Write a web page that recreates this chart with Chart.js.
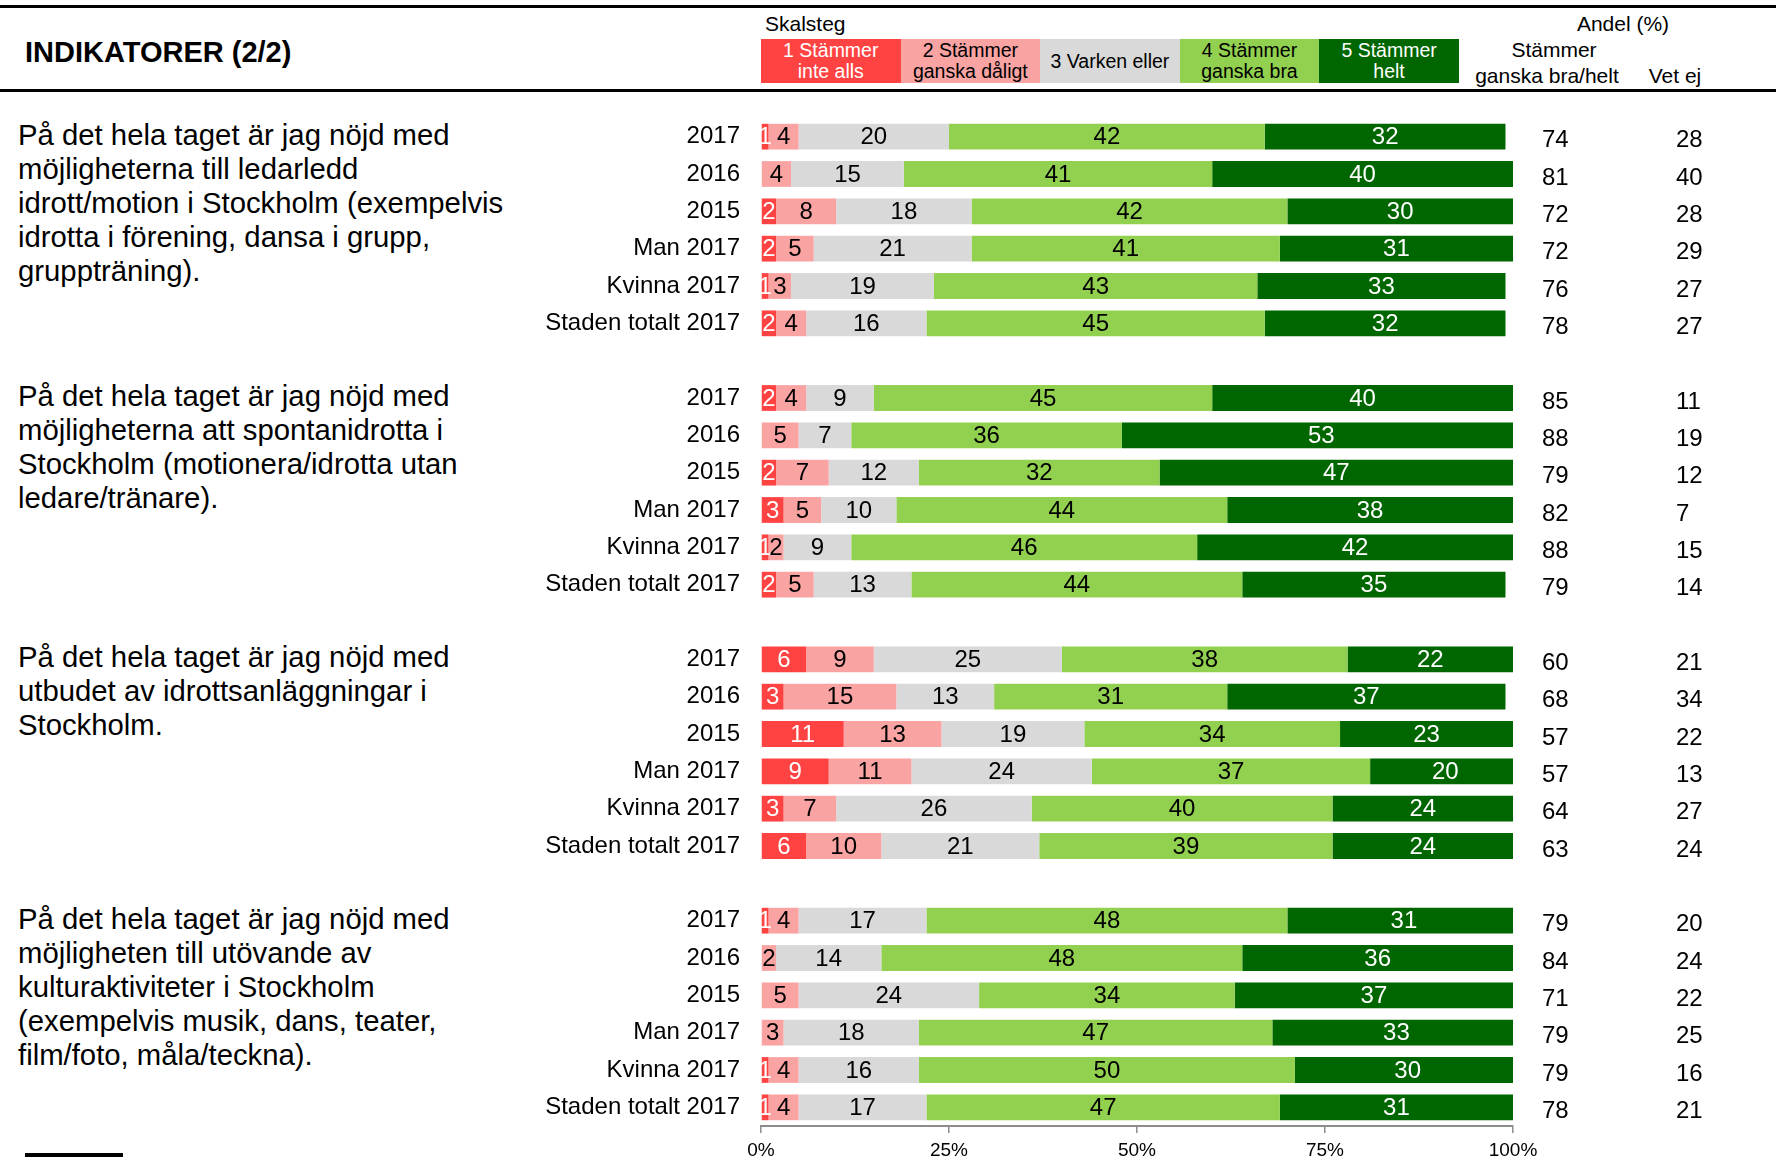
<!DOCTYPE html>
<html lang="sv">
<head>
<meta charset="utf-8">
<title>Indikatorer (2/2)</title>
<script src="https://cdn.jsdelivr.net/npm/chart.js@4/dist/chart.umd.min.js"></script>
<style>
  html, body { margin: 0; padding: 0; background: #fff; }
  body {
    width: 1776px; height: 1157px; position: relative; overflow: hidden;
    font-family: "Liberation Sans", Arial, sans-serif; color: #000;
  }
  #chart { position: absolute; left: 0; top: 0; }
  .abs { position: absolute; white-space: nowrap; }
  .rule { position: absolute; left: 0; width: 1776px; height: 3px; background: #000; }
  .title { left: 25px; top: 35px; font-size: 29px; line-height: 34px; font-weight: bold; }
  .head { font-size: 21px; line-height: 25px; }
  .center { transform: translateX(-50%); text-align: center; }
  .step {
    position: absolute; top: 39px; height: 44px; font-size: 19.5px; line-height: 21px;
    display: flex; flex-direction: column; justify-content: center; align-items: center; text-align: center;
  }
  .question { left: 18px; font-size: 29.3px; line-height: 34px; }
  .stub { position: absolute; left: 25px; top: 1153px; width: 98px; height: 4px; background: #000; }
</style>
</head>
<body>
<div class="rule" style="top:5px"></div>
<div class="rule" style="top:89px"></div>
<div class="abs title">INDIKATORER (2/2)</div>
<div class="abs head" style="left:765px; top:11px">Skalsteg</div>
<div class="abs head center" style="left:1623px; top:11px">Andel (%)</div>
<div class="abs head center" style="left:1554px; top:37px">Stämmer</div>
<div class="abs head center" style="left:1547px; top:63px">ganska bra/helt</div>
<div class="abs head center" style="left:1675px; top:63px">Vet ej</div>
<div id="steps"></div>
<div id="questions"></div>
<div class="stub"></div>
<canvas id="chart" width="1776" height="1157"></canvas>
<script>
(function(){
    'use strict'

    var FONT = '"Liberation Sans", Arial, sans-serif';

    var questions = [
        'På det hela taget är jag nöjd med\nmöjligheterna till ledarledd\nidrott/motion i Stockholm (exempelvis\nidrotta i förening, dansa i grupp,\ngruppträning).',
        'På det hela taget är jag nöjd med\nmöjligheterna att spontanidrotta i\nStockholm (motionera/idrotta utan\nledare/tränare).',
        'På det hela taget är jag nöjd med\nutbudet av idrottsanläggningar i\nStockholm.',
        'På det hela taget är jag nöjd med\nmöjligheten till utövande av\nkulturaktiviteter i Stockholm\n(exempelvis musik, dans, teater,\nfilm/foto, måla/teckna).'
    ];
    var rowLabels = ['2017', '2016', '2015', 'Man 2017', 'Kvinna 2017', 'Staden totalt 2017'];

    // share per scale step, six rows for each question
    var step1 = [1, 0, 2, 2, 1, 2,   2, 0, 2, 3, 1, 2,   6, 3, 11, 9, 3, 6,     1, 0, 0, 0, 1, 1];
    var step2 = [4, 4, 8, 5, 3, 4,   4, 5, 7, 5, 2, 5,   9, 15, 13, 11, 7, 10,  4, 2, 5, 3, 4, 4];
    var step3 = [20, 15, 18, 21, 19, 16,  9, 7, 12, 10, 9, 13,  25, 13, 19, 24, 26, 21,  17, 14, 24, 18, 16, 17];
    var step4 = [42, 41, 42, 41, 43, 45,  45, 36, 32, 44, 46, 44,  38, 31, 34, 37, 40, 39,  48, 48, 34, 47, 50, 47];
    var step5 = [32, 40, 30, 31, 33, 32,  40, 53, 47, 38, 42, 35,  22, 37, 23, 20, 24, 24,  31, 36, 37, 33, 30, 31];

    // right hand columns
    var braHelt = [74, 81, 72, 72, 76, 78,  85, 88, 79, 82, 88, 79,  60, 68, 57, 57, 64, 63,  79, 84, 71, 79, 79, 78];
    var vetEj   = [28, 40, 28, 29, 27, 27,  11, 19, 12, 7, 15, 14,   21, 34, 22, 13, 27, 24,  20, 24, 22, 25, 16, 21];

    var stepNames = [['1 Stämmer', 'inte alls'], ['2 Stämmer', 'ganska dåligt'], ['3 Varken eller'], ['4 Stämmer', 'ganska bra'], ['5 Stämmer', 'helt']];
    var stepColors = ['#ff4343', '#faa3a3', '#d9d9d9', '#92d050', '#006600'];
    var stepText = ['#fff', '#000', '#000', '#000', '#fff'];
    var xTicks = [0, 25, 50, 75, 100];

    // one empty slot between the questions
    var slots = [];
    var slotIndex = [];
    questions.forEach(function(q, g){
        rowLabels.forEach(function(r){
            slotIndex.push(slots.length);
            slots.push(r);
        });
        if (g < questions.length - 1) slots.push('');
    });
    function spread(values){
        var out = slots.map(function(){ return null; });
        values.forEach(function(v, i){ out[slotIndex[i]] = v; });
        return out;
    }

    var barLabels = {
        id: 'barLabels',
        afterDatasetsDraw: function(chart){
            var ctx = chart.ctx;
            ctx.save();
            ctx.font = '24px ' + FONT;
            ctx.textAlign = 'center';
            ctx.textBaseline = 'middle';
            chart.data.datasets.forEach(function(ds, di){
                chart.getDatasetMeta(di).data.forEach(function(bar, i){
                    var v = ds.data[i];
                    if (!v) return;
                    ctx.fillStyle = stepText[di];
                    ctx.fillText(v, (bar.x + bar.base) / 2, bar.y + 1);
                });
            });
            ctx.restore();
        }
    };

    var sideColumns = {
        id: 'sideColumns',
        afterDraw: function(chart){
            var ctx = chart.ctx;
            var y = chart.scales.y;
            var right = chart.chartArea.right;
            ctx.save();
            ctx.font = '24px ' + FONT;
            ctx.fillStyle = '#000';
            ctx.textAlign = 'left';
            ctx.textBaseline = 'middle';
            slotIndex.forEach(function(slot, i){
                var py = y.getPixelForValue(slot) + 4;
                ctx.fillText(braHelt[i], right + 29, py);
                ctx.fillText(vetEj[i], right + 163, py);
            });
            ctx.restore();
        }
    };

    var series = [step1, step2, step3, step4, step5];
    var chart = new Chart(document.getElementById('chart'), {
        type: 'bar',
        data: {
            labels: slots,
            datasets: series.map(function(values, i){
                return {
                    label: stepNames[i].join(' '),
                    data: spread(values),
                    backgroundColor: stepColors[i],
                    borderWidth: 0,
                    categoryPercentage: 1,
                    barPercentage: 0.69
                };
            })
        },
        options: {
            indexAxis: 'y',
            responsive: false,
            animation: false,
            layout: { padding: { top: 118, right: 263, left: 0, bottom: 0 } },
            plugins: { legend: { display: false }, tooltip: { enabled: false } },
            scales: {
                x: {
                    stacked: true,
                    min: 0,
                    max: 100,
                    afterBuildTicks: function(scale){
                        scale.ticks = xTicks.map(function(v){ return { value: v }; });
                    },
                    ticks: {
                        callback: function(v){ return v + '%'; },
                        color: '#000',
                        font: { size: 19, family: FONT },
                        padding: 6,
                        maxRotation: 0
                    },
                    grid: { display: true, drawOnChartArea: false, drawTicks: true, tickLength: 7, color: '#8c8c8c', lineWidth: 1.5 },
                    border: { display: true, color: '#8c8c8c', width: 2 },
                    afterFit: function(scale){ scale.height = 31; }
                },
                y: {
                    stacked: true,
                    offset: true,
                    ticks: { color: '#000', font: { size: 24, family: FONT }, padding: 21, autoSkip: false },
                    grid: { display: false, drawTicks: false },
                    border: { display: false },
                    afterFit: function(scale){
                        scale.width = 761;
                        // the label gap should not push the plot edges inwards
                        scale.paddingTop = 0;
                        scale.paddingBottom = 0;
                    }
                }
            }
        },
        plugins: [barLabels, sideColumns]
    });

    // legend boxes above the plot
    var stepsBox = document.getElementById('steps');
    var stepWidth = (chart.chartArea.right - chart.chartArea.left) * 0.1856;
    stepNames.forEach(function(lines, i){
        var div = document.createElement('div');
        div.className = 'step';
        div.style.left = (chart.chartArea.left + i * stepWidth) + 'px';
        div.style.width = stepWidth + 'px';
        div.style.background = stepColors[i];
        div.style.color = stepText[i];
        lines.forEach(function(t){
            var s = document.createElement('span');
            s.textContent = t;
            div.appendChild(s);
        });
        stepsBox.appendChild(div);
    });

    // question text next to each group of rows
    var qBox = document.getElementById('questions');
    questions.forEach(function(q, g){
        var div = document.createElement('div');
        div.className = 'abs question';
        div.style.top = (chart.scales.y.getPixelForValue(slotIndex[g * rowLabels.length]) - 19) + 'px';
        q.split('\n').forEach(function(line, k){
            if (k) div.appendChild(document.createElement('br'));
            div.appendChild(document.createTextNode(line));
        });
        qBox.appendChild(div);
    });
})();
</script>
</body>
</html>
